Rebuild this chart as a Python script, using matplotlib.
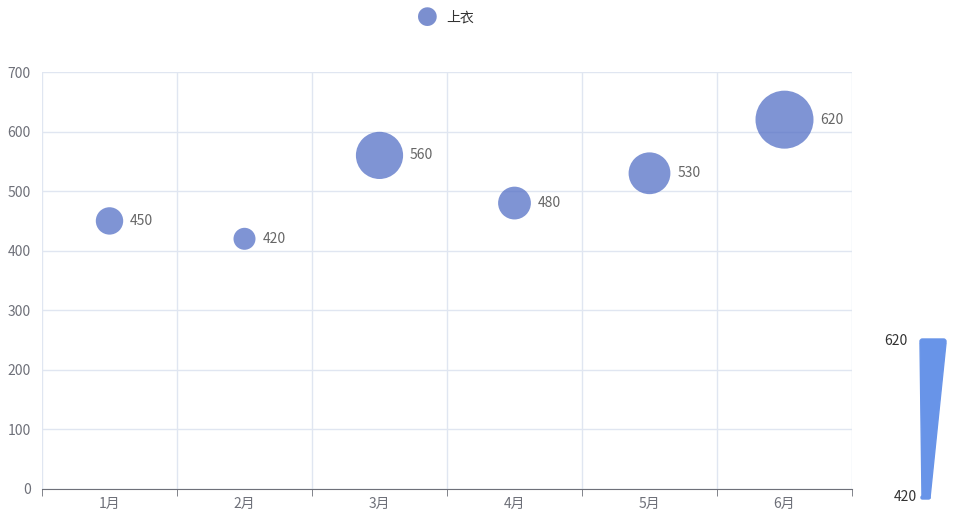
import matplotlib; matplotlib.use("Agg")
import matplotlib.pyplot as plt
from matplotlib.patches import Polygon, FancyBboxPatch

plt.rcParams["font.family"] = ["Noto Sans CJK SC", "DejaVu Sans"]

months = ["1月", "2月", "3月", "4月", "5月", "6月"]
values = [450, 420, 560, 480, 530, 620]
series_name = "上衣"

vmin, vmax = min(values), max(values)
# bubble diameter in px grows linearly with value (approx. echarts symbolSize)
diam = [22 + (v - vmin) / (vmax - vmin) * 36 for v in values]

fig = plt.figure(figsize=(9.55, 5.23), dpi=100)
ax = fig.add_axes([42 / 955, 34 / 523, 810 / 955, 417 / 523])
x = list(range(len(months)))
ax.scatter(x, values, s=[(d * 0.72) ** 2 for d in diam], color="#5470c6", alpha=0.75, lw=0, zorder=3)
for xi, v, d in zip(x, values, diam):
    ax.annotate(str(v), (xi, v), xytext=(d * 0.72 / 2 + 5, 0), textcoords="offset points",
                va="center", ha="left", fontsize=10, color="#666666")

ax.set_xlim(-0.5, len(months) - 0.5); ax.set_ylim(0, 700)
ax.set_yticks(range(0, 701, 100))
ax.set_xticks(x); ax.set_xticklabels(months)
ax.set_xticks([i - 0.5 for i in range(len(months) + 1)], minor=True)
ax.grid(axis="y", color="#e0e6f1", lw=1)
ax.grid(axis="x", which="minor", color="#e0e6f1", lw=1)
ax.tick_params(axis="x", which="major", length=0, colors="#6e7079", labelsize=10, pad=6)
ax.tick_params(axis="x", which="minor", length=5, color="#6e7079")
ax.tick_params(axis="y", length=0, colors="#6e7079", labelsize=10, pad=8)
for s in ["top", "right", "left"]: ax.spines[s].set_visible(False)
ax.spines["bottom"].set_color("#6e7079")
ax.set_axisbelow(True)

# legend
fig.patches.append(plt.Circle((427 / 955, 1 - 18 / 523), 0.0001, transform=fig.transFigure))
fig.text(427 / 955, 1 - 18 / 523, "●", color="#7b8fcf", fontsize=15, ha="center", va="center")
fig.text(446 / 955, 1 - 18 / 523, series_name, color="#333333", fontsize=10, ha="left", va="center")

# visual map
vm = fig.add_axes([0, 0, 1, 1]); vm.set_xlim(0, 955); vm.set_ylim(523, 0); vm.axis("off")
vm.add_patch(Polygon([(920, 343), (946, 343), (930, 498), (922, 498)], color="#6894e8"))
vm.add_patch(FancyBboxPatch((920, 339), 26, 5, boxstyle="round,pad=0,rounding_size=2.5", color="#6894e8"))
vm.add_patch(FancyBboxPatch((921, 496), 9, 3, boxstyle="round,pad=0,rounding_size=1.5", color="#6894e8"))
vm.text(907, 341, str(vmax), ha="right", va="center", fontsize=10, color="#333333")
vm.text(917, 497, str(vmin), ha="right", va="center", fontsize=10, color="#333333")

fig.savefig("out.png", dpi=100)
